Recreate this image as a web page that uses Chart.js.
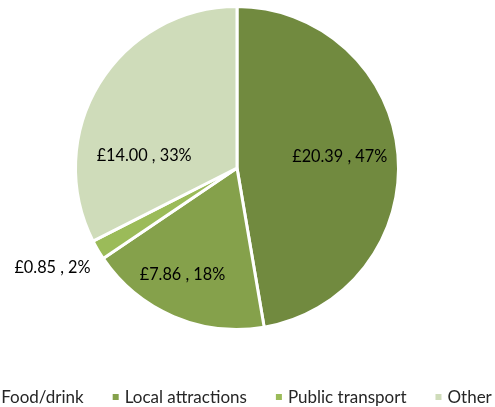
<!DOCTYPE html>
<html>
<head>
<meta charset="utf-8">
<script src="https://cdn.jsdelivr.net/npm/chart.js@4"></script>
<style>
  html, body { margin: 0; padding: 0; background: #fff; }
  #wrap { width: 495px; height: 407px; position: relative; }
</style>
</head>
<body>
<div id="wrap"><canvas id="chart" width="495" height="407"></canvas></div>
<script>
// данные диаграммы
const categories = ["Food/drink", "Local attractions", "Public transport", "Other"];
const spending = [20.39, 7.86, 0.85, 14.00];
const percentLabels = ["47%", "18%", "2%", "33%"];
const sliceColors = ["#718A3F", "#85A14B", "#9BBB59", "#CFDCBA"];

// смещения подписей: доля радиуса и поворот (градусы) относительно середины сектора
const labelPlacement = [
  { r: 0.64, turn: -1.6 },
  { r: 0.74, turn: 4 },
  { r: 1.30, turn: 2 },
  { r: 0.58, turn: -24 }
];

const LABEL_FONT = "16.3px Lato, 'Open Sans', sans-serif";
const LEGEND_FONT = "17px Lato, 'Open Sans', sans-serif";

// подписи значений на секторах
const sliceLabels = {
  id: "sliceLabels",
  afterDatasetsDraw(chart) {
    const ctx = chart.ctx;
    const meta = chart.getDatasetMeta(0);
    ctx.save();
    ctx.font = LABEL_FONT;
    ctx.fillStyle = "#000";
    ctx.textAlign = "center";
    ctx.textBaseline = "middle";
    meta.data.forEach((arc, i) => {
      const p = arc.getProps(["x", "y", "startAngle", "endAngle", "outerRadius"], true);
      const mid = (p.startAngle + p.endAngle) / 2 + labelPlacement[i].turn * Math.PI / 180;
      const r = p.outerRadius * labelPlacement[i].r;
      const text = "£" + spending[i].toFixed(2) + " , " + percentLabels[i];
      ctx.fillText(text, p.x + Math.cos(mid) * r, p.y + Math.sin(mid) * r);
    });
    ctx.restore();
  }
};

// легенда в одну строку (шире холста: первый маркер уходит за левый край, как в оригинале)
const bottomLegend = {
  id: "bottomLegend",
  afterDraw(chart) {
    const ctx = chart.ctx;
    ctx.save();
    ctx.font = LEGEND_FONT;
    ctx.textBaseline = "middle";
    const box = 6, gapText = 6, gapItem = 29;
    const widths = categories.map(c => ctx.measureText(c).width);
    let total = 0;
    widths.forEach((w, i) => { total += box + gapText + w + (i < widths.length - 1 ? gapItem : 0); });
    let x = (chart.width - total) / 2 - 7;
    const y = 397;
    categories.forEach((c, i) => {
      ctx.fillStyle = sliceColors[i];
      ctx.fillRect(x, y - box / 2, box, box);
      x += box + gapText;
      ctx.fillStyle = "#262626";
      ctx.fillText(c, x, y + 1);
      x += widths[i] + gapItem;
    });
    ctx.restore();
  }
};

new Chart(document.getElementById("chart"), {
  type: "pie",
  data: {
    labels: categories,
    datasets: [{
      data: spending,
      backgroundColor: sliceColors,
      borderColor: "#ffffff",
      borderWidth: 3
    }]
  },
  options: {
    responsive: false,
    animation: false,
    layout: { padding: { top: 5, bottom: 76, left: 74, right: 95 } },
    plugins: {
      legend: { display: false },
      tooltip: { enabled: false }
    }
  },
  plugins: [sliceLabels, bottomLegend]
});
</script>
</body>
</html>
